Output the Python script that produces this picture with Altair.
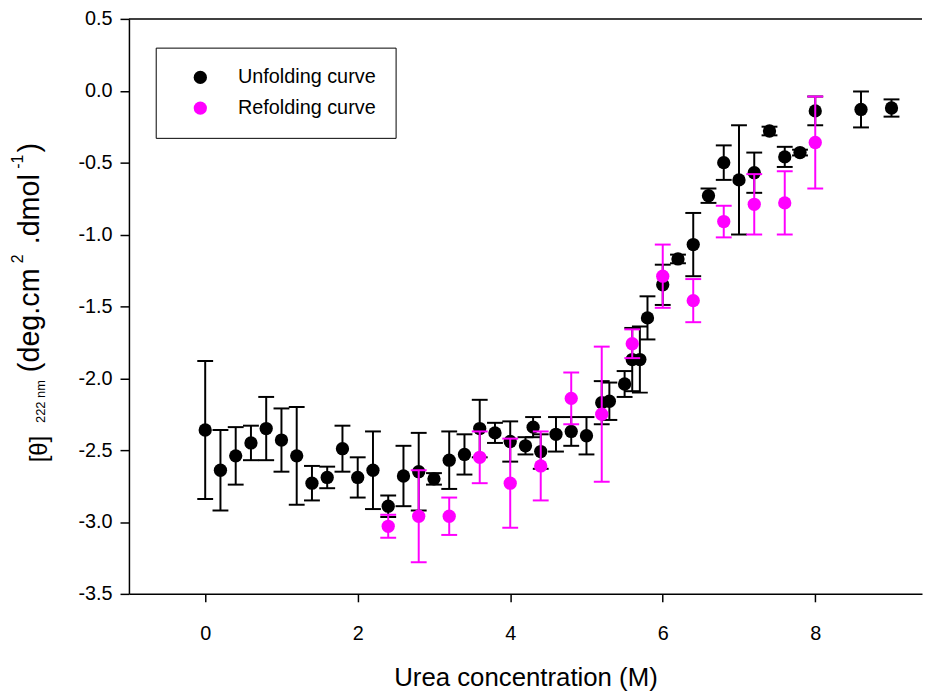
import altair as alt
import pandas as pd

# ---- data ----
unf_x = [0, 0.2, 0.4, 0.6, 0.8, 1.0, 1.2, 1.4, 1.6, 1.8, 2.0, 2.2, 2.4, 2.6, 2.8, 3.0,
         3.2, 3.4, 3.6, 3.8, 4.0, 4.2, 4.3, 4.4, 4.6, 4.8, 5.0, 5.2, 5.3, 5.5, 5.6, 5.7,
         5.8, 6.0, 6.2, 6.4, 6.6, 6.8, 7.0, 7.2, 7.4, 7.6, 7.8, 8.0, 8.6, 9.0]
unf_y = [-2.36, -2.64, -2.54, -2.45, -2.35, -2.43, -2.54, -2.73, -2.69, -2.49, -2.69, -2.64,
         -2.89, -2.68, -2.65, -2.70, -2.57, -2.53, -2.35, -2.38, -2.44, -2.47, -2.34, -2.51,
         -2.39, -2.37, -2.40, -2.17, -2.16, -2.04, -1.87, -1.87, -1.58, -1.35, -1.17, -1.07,
         -0.73, -0.50, -0.62, -0.57, -0.28, -0.46, -0.43, -0.14, -0.13, -0.12]
unf_err = [0.48, 0.28, 0.20, 0.12, 0.22, 0.22, 0.34, 0.12, 0.075, 0.16, 0.14, 0.27,
           0.075, 0.21, 0.27, 0.04, 0.20, 0.14, 0.20, 0.07, 0.14, 0.06, 0.07, 0.12,
           0.12, 0.10, 0.13, 0.15, 0.13, 0.09, 0.22, 0.23, 0.15, 0.14, 0.03, 0.22,
           0.05, 0.12, 0.38, 0.14, 0.03, 0.07, 0.02, 0.10, 0.125, 0.06]

ref_x = [2.4, 2.8, 3.2, 3.6, 4.0, 4.4, 4.8, 5.2, 5.6, 6.0, 6.4, 6.8, 7.2, 7.6, 8.0]
ref_y = [-3.03, -2.96, -2.96, -2.55, -2.73, -2.61, -2.14, -2.25, -1.76, -1.29, -1.46,
         -0.91, -0.79, -0.78, -0.36]
ref_err = [0.08, 0.32, 0.13, 0.18, 0.31, 0.24, 0.18, 0.47, 0.10, 0.22, 0.15, 0.11,
           0.21, 0.22, 0.32]

series_names = ["Unfolding curve", "Refolding curve"]
series_colors = ["#000000", "#ff00ff"]
x_ticks = [0, 2, 4, 6, 8]
y_ticks = [-3.5, -3.0, -2.5, -2.0, -1.5, -1.0, -0.5, 0.0, 0.5]
x_title = "Urea concentration (M)"

unf = pd.DataFrame({"x": unf_x, "y": unf_y, "err": unf_err, "series": series_names[0]})
ref = pd.DataFrame({"x": ref_x, "y": ref_y, "err": ref_err, "series": series_names[1]})
df = pd.concat([unf, ref], ignore_index=True)
df["lo"] = df["y"] - df["err"]
df["hi"] = df["y"] + df["err"]

FONT = "Liberation Sans"
W, H = 800, 580
OX, OY = 130, 16  # plot origin on the page

xscale = alt.Scale(domain=[-1, 9.4], nice=False, zero=False)
yscale = alt.Scale(domain=[-3.5, 0.5], nice=False, zero=False)
xaxis = alt.Axis(values=x_ticks, format="d", title=x_title, titleFontSize=26,
                 titleFont=FONT, titleFontWeight="normal", titlePadding=21,
                 labelFontSize=20, labelFont=FONT, labelPadding=22, tickSize=8,
                 grid=False, domainColor="black", domainWidth=1.5, tickColor="black",
                 tickWidth=1.5, labelColor="black", titleColor="black")
yaxis = alt.Axis(values=y_ticks, title=None,
                 labelExpr="datum.value < 0 ? '-' + format(-datum.value, '.1f') : format(datum.value, '.1f')",
                 labelFontSize=20, labelFont=FONT, labelPadding=8, tickSize=9,
                 grid=False, domainColor="black", domainWidth=1.5, tickColor="black",
                 tickWidth=1.5, labelColor="black")

X = alt.X("x:Q", scale=xscale, axis=xaxis)


def Y(field):
    return alt.Y(field, scale=yscale, axis=yaxis)


base = alt.Chart(df)
color_enc = alt.Color(
    "series:N",
    scale=alt.Scale(domain=series_names, range=series_colors),
    legend=alt.Legend(title=None, orient="none", legendX=27, legendY=45 - OY,
                      fillColor="white", strokeColor="black", padding=20,
                      symbolOffset=15, symbolSize=180, symbolType="circle",
                      symbolStrokeWidth=0, labelFontSize=20, labelFont=FONT,
                      labelColor="black", labelOffset=28, rowPadding=11),
)


def errorbars(name, color):
    b = base.transform_filter(alt.datum.series == name)
    rule = b.mark_rule(color=color, strokeWidth=2).encode(x=X, y=Y("lo:Q"), y2="hi:Q")
    lo = b.mark_tick(color=color, orient="horizontal", size=16, thickness=2,
                     opacity=1).encode(x=X, y=Y("lo:Q"))
    hi = b.mark_tick(color=color, orient="horizontal", size=16, thickness=2,
                     opacity=1).encode(x=X, y=Y("hi:Q"))
    return [rule, lo, hi]


def points(name):
    b = base.transform_filter(alt.datum.series == name)
    return b.mark_circle(size=180, opacity=1).encode(x=X, y=Y("y:Q"), color=color_enc)


layers = []
layers += errorbars(series_names[0], series_colors[0])
layers.append(points(series_names[0]))
layers += errorbars(series_names[1], series_colors[1])
layers.append(points(series_names[1]))

# top frame line
layers.append(
    alt.Chart(pd.DataFrame({"a": [0]})).mark_rule(color="black", strokeWidth=1.5)
    .encode(x=alt.value(0), x2=alt.value(W), y=alt.value(0))
)

# y-axis title pieces (rotated), page coordinates
title_pieces = [
    ("[θ]", 40, 450, 24),
    ("222 nm", 41, 402, 13),
    ("(deg.cm", 30, 320, 29),
    ("2", 18, 258, 16),
    (".dmol", 30, 208, 29),
    ("-1", 18, 160, 16),
    (")", 30, 146, 29),
]
for txt, px, py, fs in title_pieces:
    layers.append(
        alt.Chart(pd.DataFrame({"t": [txt]}))
        .mark_text(angle=270, align="center", baseline="middle", font=FONT,
                   fontSize=fs, color="black")
        .encode(text="t:N", x=alt.value(px - OX), y=alt.value(py - OY))
    )

chart = alt.layer(*layers).properties(
    width=W, height=H,
    autosize=alt.AutoSizeParams(type="none"),
    padding={"left": OX - 8, "top": OY - 8, "right": 1, "bottom": 96},
    background="white",
).configure_view(stroke=None)

chart.save("out.html", embed_options={"renderer": "svg", "actions": False})
